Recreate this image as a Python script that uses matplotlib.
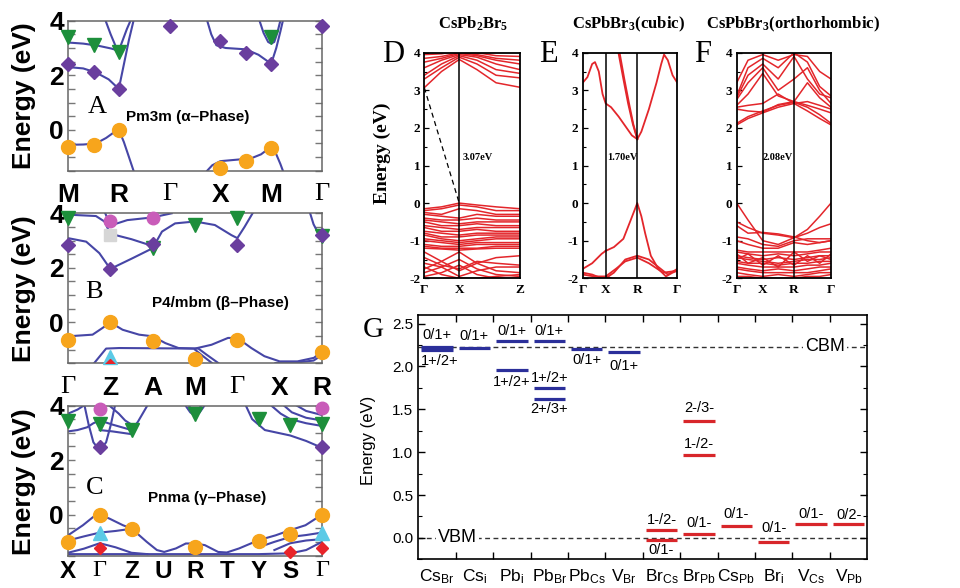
import matplotlib
matplotlib.use('Agg')
import matplotlib.pyplot as plt
from matplotlib.ticker import MultipleLocator, FixedLocator, NullFormatter

W, H = 960, 588
plt.rcParams['mathtext.fontset'] = 'custom'
plt.rcParams['mathtext.rm'] = 'Liberation Serif:bold'
plt.rcParams['mathtext.it'] = 'Liberation Serif:italic:bold'
plt.rcParams['mathtext.bf'] = 'Liberation Serif:bold'
plt.rcParams['mathtext.sf'] = 'Liberation Sans'

# ---------------- data: panels A-C (model band structures) ----------------
A_klabels = ['M', 'R', 'Γ', 'X', 'M', 'Γ']
A_bands = [
    ([0, 0.3, 0.6, 0.85, 1.0, 1.08, 1.16, 1.23], [3.2, 3.16, 3.08, 2.98, 2.9, 3.3, 3.7, 4.0]),
    ([0.74, 0.84, 0.93, 1.0], [4.0, 3.5, 3.1, 2.9]),
    ([0, 0.3, 0.55, 0.8, 1.0, 1.1, 1.2, 1.29], [2.3, 2.25, 2.1, 1.85, 1.5, 2.4, 3.3, 4.0]),
    ([0, 0.3, 0.55, 0.75, 0.9, 1.0, 1.1, 1.2, 1.29], [-0.55, -0.54, -0.5, -0.3, -0.1, 0.0, -0.45, -1.0, -1.5]),
    ([2.74, 2.82, 2.92, 3.1, 3.5, 3.75, 4.0, 4.1, 4.18, 4.23], [4.0, 3.5, 3.1, 3.0, 2.95, 2.75, 2.42, 3.0, 3.6, 4.0]),
    ([3.77, 3.85, 3.94, 4.0, 4.06, 4.12, 4.18], [4.0, 3.55, 3.22, 3.16, 3.22, 3.55, 4.0]),
    ([2.74, 2.84, 3.0, 3.3, 3.6, 3.8, 4.0, 4.1, 4.18, 4.23], [-1.5, -1.3, -1.15, -1.1, -1.05, -0.9, -0.62, -0.9, -1.25, -1.5]),
]
A_markers = {
    'orange': ([0, 0.52, 1, 3, 3.5, 4], [-0.62, -0.55, 0.0, -1.4, -1.16, -0.65]),
    'green': ([0, 0.52, 1, 4], [3.42, 3.12, 2.86, 3.4]),
    'purple': ([0, 0.52, 1, 2, 3, 3.5, 4, 5], [2.41, 2.13, 1.48, 3.8, 3.26, 2.8, 2.41, 3.8]),
}

B_klabels = ['Γ', 'Z', 'A', 'M', 'Γ', 'X', 'R']
B_bands = [
    ([0, 0.43, 0.74, 1.0, 1.52, 2.0, 2.22, 2.53, 3.0, 3.47, 3.86, 4.0, 4.17, 4.36],
     [3.09, 2.96, 2.54, 1.96, 2.35, 2.72, 3.33, 3.63, 3.7, 3.57, 3.2, 3.09, 3.5, 4.0]),
    ([0, 0.66, 0.86, 1.0, 1.5, 2.0], [3.95, 3.9, 3.7, 3.25, 3.05, 2.8]),
    ([1.0, 1.4, 2.0, 2.3, 2.45], [3.55, 3.75, 3.85, 3.95, 4.0]),
    ([0.88, 0.95, 1.0], [4.0, 3.75, 3.55]),
    ([5.72, 5.8, 5.9, 6.0], [4.0, 3.6, 3.3, 3.15]),
    ([0, 0.58, 0.82, 1.0, 1.29, 1.68, 2.0, 2.3, 2.61, 3.0, 3.39, 3.78, 4.0, 4.33, 4.64, 5.0, 5.42, 5.81, 6.0],
     [-0.51, -0.45, -0.2, 0.0, -0.27, -0.45, -0.51, -0.76, -0.94, -0.96, -0.82, -0.57, -0.57, -0.94, -1.24, -1.43, -1.43, -1.3, -1.06]),
    ([0.62, 0.9, 1.21, 3.08, 3.27, 3.55], [-1.49, -0.96, -0.94, -0.96, -1.18, -1.49]),
    ([3.0, 3.2, 3.4], [-1.0, -1.25, -1.49]),
    ([4.9, 5.4, 5.8, 6.0], [-1.49, -1.47, -1.4, -1.2]),
]
B_markers = {
    'orange': ([0, 1, 2, 3, 4, 6], [-0.66, 0.0, -0.7, -1.33, -0.63, -1.1]),
    'green': ([0, 2, 3, 4, 6], [3.82, 2.72, 3.57, 3.82, 3.18]),
    'purple': ([0, 1, 2, 4, 6], [2.82, 1.96, 2.87, 2.82, 3.2]),
    'magenta': ([1, 2], [3.7, 3.82]),
    'gray': ([1], [3.2]),
    'cyan': ([1], [-1.28]),
    'red': ([1], [-1.58]),
}

C_klabels = ['X', 'Γ', 'Z', 'U', 'R', 'T', 'Y', 'S', 'Γ']
C_bands = [
    ([0.52, 0.65, 0.8, 1.0, 1.2, 1.35, 1.48], [4.0, 3.3, 2.65, 2.35, 2.65, 3.3, 4.0]),
    ([0, 0.3, 0.6, 0.8, 1.0], [3.05, 3.1, 3.2, 3.35, 3.45]),
    ([1.0, 1.4, 1.7, 2.0], [3.1, 3.05, 3.0, 2.95]),
    ([1.0, 1.4, 1.7, 2.0, 2.2, 2.4, 2.5], [3.45, 3.3, 3.2, 3.1, 3.4, 3.8, 4.0]),
    ([1.3, 1.6, 1.8, 2.0], [4.0, 3.7, 3.45, 3.3]),
    ([0, 0.3, 0.5], [3.7, 3.85, 4.0]),
    ([3.7, 3.85, 4.0, 4.15, 4.3], [4.0, 3.75, 3.62, 3.75, 4.0]),
    ([3.8, 3.9, 4.0, 4.1, 4.2], [4.0, 3.85, 3.8, 3.85, 4.0]),
    ([5.6, 5.8, 6.2, 7.0, 7.5, 8.0], [4.0, 3.5, 3.1, 2.9, 2.7, 2.45]),
    ([6.4, 6.7, 7.0, 7.5, 8.0], [4.0, 3.7, 3.5, 3.35, 3.25]),
    ([6.8, 7.05, 7.5, 8.0], [4.0, 3.75, 3.55, 3.45]),
    ([7.2, 7.5, 8.0], [4.0, 3.8, 3.65]),
    ([0, 0.47, 0.79, 1.0, 1.31, 1.73, 2.0, 2.48, 2.8, 3.03, 3.4, 3.71, 4.0, 4.31, 4.73, 5.0, 5.39, 6.0, 6.54, 7.0, 7.48, 8.0],
     [-0.76, -0.39, -0.09, 0.0, -0.15, -0.39, -0.51, -1.0, -1.3, -1.37, -1.24, -1.06, -1.06, -1.12, -1.37, -1.39, -1.24, -0.94, -0.76, -0.57, -0.39, 0.0]),
    ([0, 0.5, 1.0, 1.5, 2.0], [-0.95, -0.8, -0.66, -0.6, -0.52]),
    ([0, 0.5, 1.0, 1.5, 2.0, 2.5], [-1.4, -1.25, -1.05, -1.2, -1.4, -1.45]),
    ([0, 1, 2, 3, 4, 5, 6, 7, 7.5, 8], [-1.45, -1.45, -1.45, -1.45, -1.45, -1.45, -1.45, -1.42, -1.3, -1.0]),
    ([6.0, 6.5, 7.0, 7.5, 8.0], [-1.2, -1.0, -0.82, -0.75, -0.66]),
    ([6.5, 7.0, 7.5, 8.0], [-1.3, -1.05, -0.95, -0.9]),
]
C_markers = {
    'orange': ([0, 1, 2, 4, 6, 7, 8], [-1.02, 0.0, -0.51, -1.18, -0.98, -0.7, 0.0]),
    'green': ([0, 1, 2, 4, 6, 7, 8], [3.45, 3.33, 3.09, 3.7, 3.5, 3.27, 3.33]),
    'purple': ([1, 8], [2.48, 2.48]),
    'magenta': ([1, 8], [3.88, 3.9]),
    'cyan': ([1, 8], [-0.66, -0.66]),
    'red': ([1, 7, 8], [-1.22, -1.37, -1.22]),
}

# ---------------- data: panels D-F (DFT band structures) ----------------
D_k = [0, 0.18, 0.365, 0.55, 0.75, 1.0]
D_klabels = ['Γ', 'X', 'Z']
D_bands = [
    [3.07, 3.5, 3.82, 3.55, 3.2, 3.08],
    [3.3, 3.6, 3.88, 3.7, 3.4, 3.33],
    [3.4, 3.7, 3.92, 3.8, 3.55, 3.45],
    [3.6, 3.8, 3.95, 3.88, 3.7, 3.55],
    [3.75, 3.85, 3.98, 3.92, 3.8, 3.7],
    [3.85, 3.9, 4.0, 3.95, 3.85, 3.8],
    [3.95, 3.97, 4.05, 4.0, 3.92, 3.9],
    [-0.15, -0.1, 0.0, -0.05, -0.1, -0.15],
    [-0.2, -0.15, -0.05, -0.1, -0.2, -0.2],
    [-0.25, -0.3, -0.15, -0.2, -0.3, -0.3],
    [-0.3, -0.35, -0.4, -0.3, -0.35, -0.35],
    [-0.4, -0.45, -0.45, -0.4, -0.45, -0.45],
    [-0.45, -0.5, -0.55, -0.5, -0.5, -0.5],
    [-0.5, -0.6, -0.6, -0.55, -0.6, -0.6],
    [-0.6, -0.65, -0.7, -0.65, -0.65, -0.65],
    [-0.65, -0.75, -0.75, -0.7, -0.75, -0.75],
    [-0.75, -0.8, -0.85, -0.8, -0.8, -0.8],
    [-0.8, -0.9, -0.9, -0.85, -0.85, -0.85],
    [-0.85, -0.95, -1.0, -0.95, -0.9, -0.9],
    [-0.95, -1.0, -1.05, -1.0, -0.95, -0.95],
    [-1.0, -1.05, -1.1, -1.05, -1.05, -1.05],
    [-1.1, -1.15, -1.15, -1.1, -1.1, -1.1],
    [-1.15, -1.2, -1.2, -1.2, -1.15, -1.15],
    [-1.2, -1.22, -1.25, -1.22, -1.2, -1.2],
    [-1.3, -1.55, -1.8, -1.6, -1.45, -1.4],
    [-1.45, -1.65, -1.75, -1.55, -1.6, -1.65],
    [-1.6, -1.7, -1.95, -1.8, -1.7, -1.7],
    [-1.75, -1.55, -1.3, -1.6, -1.8, -1.85],
    [-1.85, -1.7, -1.5, -1.75, -1.9, -1.95],
    [-1.95, -1.85, -1.65, -1.9, -2.0, -2.0],
    [-1.7, -1.9, -2.0, -2.0, -1.95, -1.9],
]
D_gap = [3.07, 0.0]

E_kticks = [0, 0.243, 0.577, 1.0]
E_klabels = ['Γ', 'X', 'R', 'Γ']
E_bands = [
    ([0, 0.05, 0.1, 0.13, 0.17, 0.21, 0.243, 0.3, 0.38, 0.45, 0.52, 0.577],
     [3.2, 3.35, 3.7, 3.75, 3.5, 2.9, 2.65, 2.55, 2.3, 2.05, 1.8, 1.7]),
    ([0.577, 0.62, 0.7, 0.78, 0.83, 0.86, 0.9, 0.95, 1.0],
     [1.7, 1.9, 2.5, 3.2, 3.7, 3.95, 3.8, 3.4, 3.2]),
    ([0.378, 0.43, 0.48, 0.53, 0.577], [4.0, 3.3, 2.65, 2.1, 1.7]),
    ([0.39, 0.44, 0.49, 0.535, 0.577], [4.0, 3.3, 2.65, 2.1, 1.72]),
    ([0.243, 0.33, 0.43, 0.5, 0.577, 0.62, 0.66, 0.72, 0.8, 0.88, 0.95, 1.0],
     [-1.27, -1.17, -0.95, -0.5, 0.0, -0.35, -0.8, -1.4, -1.75, -1.95, -1.85, -1.8]),
    ([0, 0.1, 0.2, 0.243], [-1.75, -1.6, -1.35, -1.27]),
    ([0.243, 0.33, 0.45, 0.577, 0.7, 0.8, 0.9, 1.0], [-2.0, -1.85, -1.5, -1.4, -1.5, -1.7, -1.9, -1.75]),
    ([0.243, 0.35, 0.45, 0.577, 0.7, 0.85, 1.0], [-1.95, -1.75, -1.55, -1.45, -1.6, -1.85, -1.8]),
    ([0, 0.1, 0.2, 0.243], [-1.85, -1.9, -2.0, -2.0]),
    ([0, 0.12, 0.243, 0.3], [-1.9, -1.95, -1.95, -2.0]),
]

F_k = [0, 0.12, 0.276, 0.44, 0.608, 0.75, 0.88, 1.0]
F_kticks = [0, 0.276, 0.608, 1.0]
F_klabels = ['Γ', 'X', 'R', 'Γ']
F_bands = [
    [2.08, 2.25, 2.4, 2.55, 2.65, 2.45, 2.25, 2.08],
    [2.12, 2.3, 2.45, 2.6, 2.68, 2.55, 2.35, 2.12],
    [2.5, 2.45, 2.42, 2.62, 2.7, 2.6, 2.5, 2.4],
    [2.55, 2.6, 2.65, 2.9, 2.65, 2.7, 2.6, 2.5],
    [2.6, 2.9, 3.45, 2.85, 2.7, 3.2, 2.8, 2.55],
    [2.75, 3.2, 3.6, 3.0, 3.3, 3.6, 3.0, 2.65],
    [2.8, 3.4, 3.7, 3.3, 3.9, 3.3, 2.9, 2.8],
    [2.85, 3.6, 3.85, 3.6, 4.0, 3.75, 3.1, 2.85],
    [3.2, 3.8, 3.95, 3.8, 3.95, 3.9, 3.5, 3.3],
    [0.0, -0.45, -1.0, -1.1, -0.92, -0.7, -0.35, 0.0],
    [-0.5, -0.65, -0.8, -0.85, -0.92, -0.8, -0.65, -0.55],
    [-0.6, -0.8, -0.78, -0.82, -0.9, -1.0, -1.05, -1.0],
    [-0.9, -0.95, -1.1, -1.15, -1.0, -0.95, -0.95, -0.95],
    [-1.0, -1.1, -1.2, -1.2, -1.05, -1.1, -1.05, -1.0],
    [-1.25, -1.3, -1.3, -1.3, -1.3, -1.3, -1.25, -1.2],
    [-1.3, -1.35, -1.4, -1.35, -1.4, -1.35, -1.3, -1.3],
    [-1.4, -1.45, -1.5, -1.45, -1.5, -1.45, -1.4, -1.4],
    [-1.45, -1.5, -1.55, -1.6, -1.55, -1.5, -1.5, -1.45],
    [-1.55, -1.6, -1.6, -1.65, -1.6, -1.6, -1.55, -1.55],
    [-1.6, -1.65, -1.7, -1.7, -1.7, -1.65, -1.65, -1.6],
    [-1.7, -1.75, -1.8, -1.75, -1.8, -1.75, -1.7, -1.7],
    [-1.75, -1.8, -1.85, -1.85, -1.85, -1.85, -1.8, -1.75],
    [-1.85, -1.9, -1.95, -1.9, -1.95, -1.9, -1.85, -1.85],
    [-1.95, -1.95, -2.0, -2.0, -2.0, -1.95, -1.95, -1.9],
    [-1.35, -1.6, -1.45, -1.7, -1.3, -1.55, -1.4, -1.5],
    [-1.5, -1.35, -1.65, -1.4, -1.65, -1.4, -1.6, -1.35],
]

# ---------------- data: panel G (defect transition levels) ----------------
G_cat_main = ['Cs', 'Cs', 'Pb', 'Pb', 'Pb', 'V', 'Br', 'Br', 'Cs', 'Br', 'V', 'V']
G_cat_sub = ['Br', 'i', 'i', 'Br', 'Cs', 'Br', 'Cs', 'Pb', 'Pb', 'i', 'Cs', 'Pb']
G_level_cat = [0, 0, 1, 2, 2, 3, 3, 3, 4, 5, 6, 6, 7, 7, 7, 8, 9, 10, 11]
G_level_E = [2.228, 2.19, 2.21, 2.294, 1.963, 2.294, 1.754, 1.621, 2.20, 2.166,
             0.097, -0.02, 1.365, 0.972, 0.05, 0.144, -0.047, 0.167, 0.16]
G_level_lab = ['0/1+', '1+/2+', '0/1+', '0/1+', '1+/2+', '0/1+', '1+/2+', '2+/3+', '0/1+', '0/1+',
               '1-/2-', '0/1-', '2-/3-', '1-/2-', '0/1-', '0/1-', '0/1-', '0/1-', '0/2-']
G_lab_x = [0.0, 0.08, 1.0, 2.0, 2.0, 3.0, 3.0, 3.0, 4.0, 5.0, 6.0, 6.0, 7.0, 7.0, 7.0, 8.0, 9.0, 10.0, 11.0]
G_lab_y = [2.37, 2.06, 2.35, 2.41, 1.82, 2.41, 1.87, 1.50, 2.07, 2.01,
           0.21, -0.14, 1.52, 1.09, 0.175, 0.28, 0.12, 0.28, 0.27]
G_CBM = 2.228
G_VBM = 0.0

# ---------------- drawing ----------------
fig = plt.figure(figsize=(9.6, 5.88), dpi=100)


def rect(l, t, r, b):
    return [l / W, 1 - b / H, (r - l) / W, (b - t) / H]


def fpos(x, y):
    return (x / W, 1 - y / H)


BAND_BLUE = '#4646a6'
MK = {
    'orange': ('o', '#f7a51c', 10),
    'green': ('v', '#1d8f3b', 10),
    'purple': ('D', '#6a3e9e', 7.5),
    'magenta': ('o', '#c95cb9', 9),
    'gray': ('s', '#d6d6d6', 9),
    'cyan': ('^', '#5ccae6', 10),
    'red': ('D', '#e8242a', 6.5),
}
SANSB = 'Liberation Sans'


def model_panel(r, klabels, bands, markers, letter, lxy, phase, pxy, ylab_y, xpad=9, xsize=19):
    ax = fig.add_axes(r)
    n = len(klabels) - 1
    ax.set_xlim(0, n)
    ax.set_ylim(-1.5, 4)
    for xs, ys in bands:
        ax.plot(xs, ys, color=BAND_BLUE, lw=1.5, zorder=2)
    for key, (xs, ys) in markers.items():
        m, c, s = MK[key]
        clip = (key == 'red' and letter == 'B')
        ax.plot(xs, ys, ls='none', marker=m, color=c, ms=s, mec=c, zorder=4, clip_on=clip)
    ax.set_xticks(range(len(klabels)))
    ax.set_xticklabels(klabels)
    for t in ax.get_xticklabels():
        if t.get_text() == 'Γ':
            t.set_fontfamily('Liberation Serif')
            t.set_fontweight('normal')
        else:
            t.set_fontfamily(SANSB)
            t.set_fontweight('bold')
        t.set_fontsize(xsize)
    ax.tick_params(axis='x', length=0, pad=xpad)
    ax.set_yticks([0, 2, 4])
    ax.set_yticklabels(['0', '2', '4'], fontsize=19, fontweight='bold', fontfamily=SANSB)
    ax.yaxis.set_minor_locator(MultipleLocator(0.5))
    ax.tick_params(axis='y', which='both', direction='in', left=True, right=True, length=5,
                   color='#777777', width=1, pad=3)
    for sp in ax.spines.values():
        sp.set_color('#666666')
        sp.set_linewidth(1.1)
    fig.text(*fpos(*lxy), letter, fontsize=19, fontfamily='Liberation Serif', ha='center', va='center')
    fig.text(*fpos(*pxy), phase, fontsize=11, fontweight='bold', fontfamily=SANSB, ha='center', va='center')
    fig.text(*fpos(24, ylab_y), 'Energy (eV)', fontsize=19, fontweight='bold', fontfamily=SANSB,
             rotation=90, ha='center', va='center')
    return ax


model_panel(rect(68, 20.7, 322, 170.7), A_klabels, A_bands, A_markers, 'A', (97, 107),
            'Pm3m (α–Phase)', (188, 117), 96)
model_panel(rect(68, 213.3, 322, 363.3), B_klabels, B_bands, B_markers, 'B', (94, 292),
            'P4/mbm (β–Phase)', (220, 303), 289)
model_panel(rect(68, 405.5, 322, 555.5), C_klabels, C_bands, C_markers, 'C', (95, 488),
            'Pnma (γ–Phase)', (207, 498), 482, xpad=3, xsize=17.5)

RED = '#e3262b'


def dft_panel(r, kticks, klabels, title, tx, letter, lx, gap_text, gx):
    ax = fig.add_axes(r)
    ax.set_xlim(0, 1)
    ax.set_ylim(-2, 4)
    for k in kticks[1:-1]:
        ax.axvline(k, color='black', lw=1.1, zorder=3)
    ax.set_xticks(kticks)
    ax.set_xticklabels(klabels, fontsize=9.5, fontweight='bold', fontfamily='Liberation Serif')
    ax.tick_params(axis='x', length=0, pad=4)
    ax.set_yticks(range(-2, 5))
    ax.set_yticklabels([str(v) for v in range(-2, 5)], fontsize=9.5, fontweight='bold',
                       fontfamily='Liberation Serif')
    ax.yaxis.set_minor_locator(MultipleLocator(0.5))
    ax.tick_params(axis='y', which='major', direction='in', length=3.5, width=0.9, pad=3)
    ax.tick_params(axis='y', which='minor', direction='in', length=2, width=0.8)
    for sp in ax.spines.values():
        sp.set_linewidth(1.3)
    fig.text(*fpos(tx, 24), title, fontsize=12, fontweight='bold', fontfamily='Liberation Serif',
             ha='center', va='center')
    fig.text(*fpos(lx, 55), letter, fontsize=22, fontfamily='Liberation Serif', ha='center', va='center')
    fig.text(*fpos(gx, 157), gap_text, fontsize=7.5, fontweight='bold', fontfamily='Liberation Serif',
             ha='center', va='center')
    return ax


axD = dft_panel(rect(424.3, 52.7, 520, 278.3), [0, D_k[2], 1.0], D_klabels,
                r'CsPb$_\mathrm{2}$Br$_\mathrm{5}$', 473, 'D', 393, '3.07eV', 478)
for ys in D_bands:
    axD.plot(D_k, ys, color=RED, lw=1.1, zorder=2)
axD.plot([0, D_k[2]], D_gap, color='black', ls=(0, (4, 3)), lw=0.9, zorder=4)
fig.text(*fpos(382, 153), 'Energy (eV)', fontsize=14, fontweight='bold', fontfamily='Liberation Serif',
         rotation=90, ha='center', va='center')

axE = dft_panel(rect(582.7, 52.7, 677.3, 278.3), E_kticks, E_klabels,
                r'CsPbBr$_\mathrm{3}$(cubic)', 628, 'E', 548, '1.70eV', 622)
for xs, ys in E_bands:
    axE.plot(xs, ys, color=RED, lw=1.3, zorder=2)

axF = dft_panel(rect(736.7, 52.7, 831, 278.3), F_kticks, F_klabels,
                r'CsPbBr$_\mathrm{3}$(orthorhombic)', 793, 'F', 703, '2.08eV', 778)
for ys in F_bands:
    axF.plot(F_k, ys, color=RED, lw=1.1, zorder=2)

# ---------------- panel G ----------------
axG = fig.add_axes(rect(418.3, 315, 867.3, 559.3))
axG.set_xlim(-0.5, 11.5)
axG.set_ylim(-0.25, 2.6)
BLUE = '#2b2f9a'
GRED = '#d8262a'
axG.axhline(G_CBM, color='#333333', ls=(0, (3.5, 2.5)), lw=1.0, zorder=1)
axG.axhline(G_VBM, color='#333333', ls=(0, (3.5, 2.5)), lw=1.0, zorder=1)
for c, e, lab, lx, ly in zip(G_level_cat, G_level_E, G_level_lab, G_lab_x, G_lab_y):
    col = BLUE if c < 6 else GRED
    axG.hlines(e, c - 0.42, c + 0.42, color=col, lw=2.3, zorder=3)
    axG.text(lx, ly, lab, fontsize=10.5, fontfamily=SANSB, ha='center', va='center', zorder=4)
axG.text(10.37, G_CBM, 'CBM', fontsize=13, fontfamily=SANSB, ha='center', va='center', zorder=2,
         bbox=dict(facecolor='white', edgecolor='none', pad=1.5))
axG.text(0.55, G_VBM, 'VBM', fontsize=13, fontfamily=SANSB, ha='center', va='center', zorder=2,
         bbox=dict(facecolor='white', edgecolor='none', pad=1.5))
axG.xaxis.set_major_locator(FixedLocator([i + 0.5 for i in range(11)]))
axG.xaxis.set_major_formatter(NullFormatter())
axG.tick_params(axis='x', direction='in', top=True, bottom=True, length=5, width=1)
axG.yaxis.set_minor_locator(MultipleLocator(0.25))
axG.set_yticks([0.0, 0.5, 1.0, 1.5, 2.0, 2.5])
axG.set_yticklabels(['0.0', '0.5', '1.0', '1.5', '2.0', '2.5'], fontsize=11, fontfamily=SANSB)
axG.tick_params(axis='y', which='major', direction='in', left=True, right=True, length=5, width=1)
axG.tick_params(axis='y', which='minor', direction='in', left=True, right=True, length=3, width=0.8)
for sp in axG.spines.values():
    sp.set_linewidth(1.2)
for i, (m, s) in enumerate(zip(G_cat_main, G_cat_sub)):
    axG.annotate(r'$\mathsf{%s}_{\mathsf{%s}}$' % (m, s), xy=(i, 0), xycoords=('data', 'axes fraction'),
                 xytext=(0, -6), textcoords='offset points', ha='center', va='top', fontsize=12.5)
fig.text(*fpos(368, 440), 'Energy (eV)', fontsize=12, fontfamily=SANSB, rotation=90,
         ha='center', va='center')
fig.text(*fpos(373, 330), 'G', fontsize=21, fontfamily='Liberation Serif', ha='center', va='center')

fig.savefig('out.png', dpi=100)
